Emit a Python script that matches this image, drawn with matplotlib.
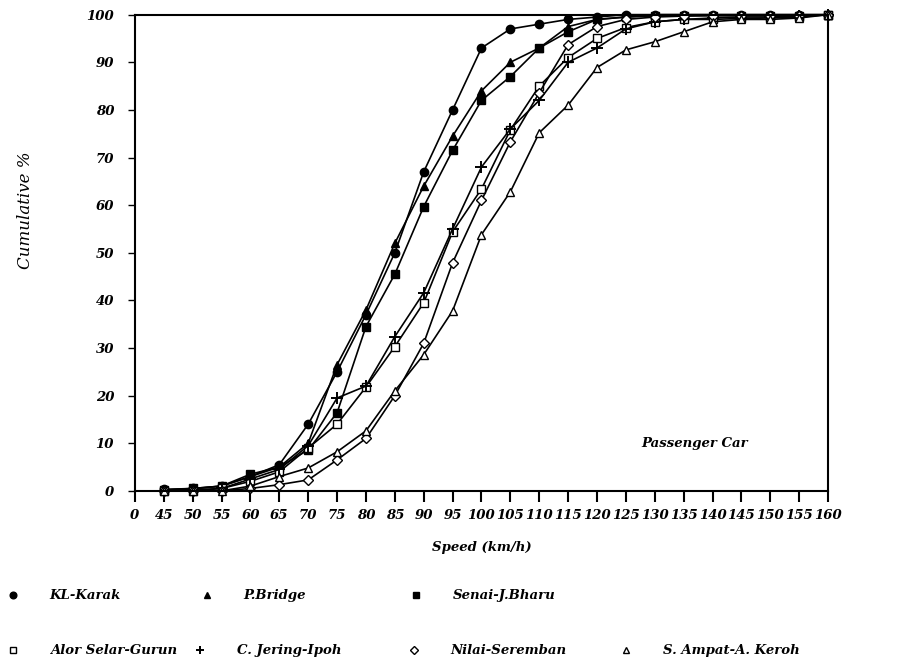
import matplotlib
matplotlib.use("Agg")
import matplotlib.pyplot as plt
from matplotlib.lines import Line2D

# x axis categories (speed, km/h)
tick_labels = ["0"] + [str(v) for v in range(45, 165, 5)]
speeds = list(range(45, 165, 5))

kl_karak = [0.3, 0.5, 1, 3, 5.5, 14, 25, 37, 50, 67, 80, 93, 97, 98, 99, 99.5,
            100, 100, 100, 100, 100, 100, 100, 100]
p_bridge = [0.2, 0.4, 1, 3, 5, 10, 26.5, 38, 52, 64, 74.5, 84, 90, 93, 97.5, 99,
            99.5, 100, 100, 100, 100, 100, 100, 100]
senai = [0.2, 0.5, 1, 3.5, 5, 8.6, 16.4, 34.5, 45.5, 59.7, 71.5, 82, 87, 93, 96.4, 99,
         99.5, 99.7, 99.8, 99.8, 99.8, 99.8, 99.8, 100]
alor_selar = [0, 0, 0.5, 2, 4, 9, 14, 21.8, 30.3, 39.5, 54.4, 63.4, 75.8, 85, 91, 95,
              97.3, 98.5, 99, 99, 99.2, 99.3, 99.5, 100]
c_jering = [0, 0.2, 0.5, 2.5, 4.5, 9.5, 19.5, 22, 32.4, 41.6, 55, 68, 76, 82, 90, 93,
            97, 98.5, 99, 99.3, 99.5, 99.5, 99.7, 100]
nilai = [0, 0, 0, 0.5, 1.3, 2.3, 6.5, 11, 20, 31, 47.9, 61, 73.3, 83.6, 93.7, 97.5,
         99, 99.5, 99.7, 99.8, 99.8, 99.8, 99.8, 100]
s_ampat = [0, 0, 0, 1, 3, 4.8, 8.2, 12.6, 21, 28.6, 37.8, 53.8, 62.8, 75.2, 81, 88.9,
           92.6, 94.3, 96.4, 98.5, 99, 99, 99.3, 100]

series_names = ["KL-Karak", "P.Bridge", "Senai-J.Bharu", "Alor Selar-Gurun",
                "C. Jering-Ipoh", "Nilai-Seremban", "S. Ampat-A. Keroh"]
series_values = [kl_karak, p_bridge, senai, alor_selar, c_jering, nilai, s_ampat]

styles = [
    dict(marker="o", mfc="black", ms=6),
    dict(marker="^", mfc="black", ms=6),
    dict(marker="s", mfc="black", ms=6),
    dict(marker="s", mfc="white", ms=6),
    dict(marker="+", mfc="black", ms=8, mew=1.4),
    dict(marker="D", mfc="white", ms=5),
    dict(marker="^", mfc="white", ms=6),
]

FONT = dict(family="DejaVu Serif", style="italic", weight="bold")

fig = plt.figure(figsize=(9.18, 6.66), dpi=100)
ax = fig.add_axes([0.147, 0.263, 0.755, 0.715])

x_pos = [tick_labels.index(str(s)) for s in speeds]
for values, style in zip(series_values, styles):
    ax.plot(x_pos, values, color="black", linewidth=1.2, mec="black",
            clip_on=False, **style)

ax.set_xlim(0, len(tick_labels) - 1)
ax.set_ylim(0, 100)
ax.set_xticks(range(len(tick_labels)))
ax.set_xticklabels(tick_labels, fontsize=9.5, **FONT)
ax.set_yticks(range(0, 101, 10))
ax.set_yticklabels([str(v) for v in range(0, 101, 10)], fontsize=9.5, **FONT)
ax.tick_params(axis="x", direction="out", length=8, width=1.5, pad=5)
ax.tick_params(axis="y", direction="out", length=5, width=1, pad=10)
for spine in ax.spines.values():
    spine.set_linewidth(1.5)

ax.set_xlabel("Speed (km/h)", fontsize=9.5, labelpad=14, **FONT)
ax.set_ylabel("Cumulative %", fontsize=12, family="DejaVu Serif", style="italic")
ax.yaxis.set_label_coords(-0.145, 0.59)
ax.text(0.808, 0.1, "Passenger Car", transform=ax.transAxes, ha="center",
        va="center", fontsize=9.5, **FONT)

# legend drawn by hand, two rows under the axes
legend_slots = [(0.014, 0.106), (0.225, 0.106), (0.453, 0.106),
                (0.014, 0.024), (0.218, 0.024), (0.451, 0.024), (0.682, 0.024)]
for (lx, ly), name, style in zip(legend_slots, series_names, styles):
    st = dict(style)
    st["ms"] = st["ms"] * 0.8
    fig.add_artist(Line2D([lx], [ly], color="black", mec="black", linestyle="none",
                          transform=fig.transFigure, **st))
    fig.text(lx + 0.04, ly, name, ha="left", va="center", fontsize=9.5, **FONT)

plt.savefig("out.png", dpi=100)
